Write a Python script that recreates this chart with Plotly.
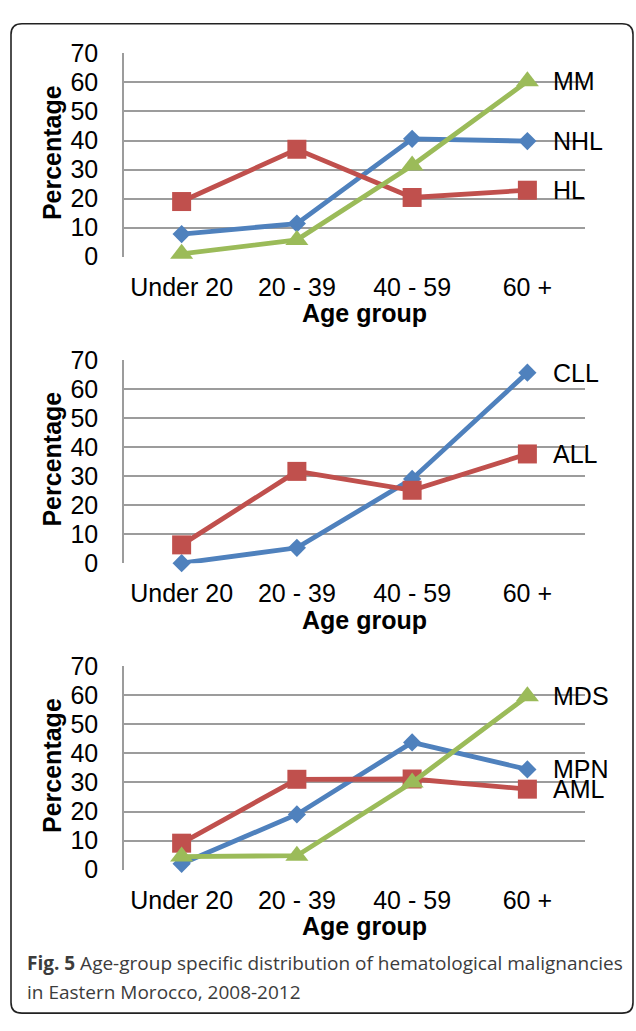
import plotly.graph_objects as go

W, H = 636, 1031

categories = ["Under 20", "20 - 39", "40 - 59", "60 +"]
y_ticks = [0, 10, 20, 30, 40, 50, 60, 70]

# Panel 1: lymphomas / myeloma
nhl = [7.8, 11.4, 40.6, 39.8]
hl = [19.0, 37.0, 20.4, 22.9]
mm = [1.0, 5.8, 31.4, 60.4]

# Panel 2: lymphoid leukemias
cll = [0.0, 5.3, 29.0, 65.6]
all_ = [6.3, 31.6, 25.1, 37.6]

# Panel 3: myeloid
mpn = [2.0, 19.0, 43.8, 34.5]
aml = [9.1, 31.1, 31.2, 27.7]
mds = [4.5, 4.8, 30.0, 59.7]

BLUE = "#4F81BD"
RED = "#C0504D"
GREEN = "#9BBB59"
GRID = "#9C9C9C"
FONT = "Liberation Sans, Arial, sans-serif"
FS = 25

panels = [
    {"series": [("NHL", nhl, BLUE, "diamond"), ("HL", hl, RED, "square"), ("MM", mm, GREEN, "triangle-up")],
     "top": 40.5, "bottom": 249.5},
    {"series": [("CLL", cll, BLUE, "diamond"), ("ALL", all_, RED, "square")],
     "top": 355.5, "bottom": 564.5},
    {"series": [("MPN", mpn, BLUE, "diamond"), ("AML", aml, RED, "square"), ("MDS", mds, GREEN, "triangle-up")],
     "top": 670.5, "bottom": 879.5},
]

def py(p):
    return 1 - p / H

def px(p):
    return p / W

X0, X1 = 124, 585
marker_size = {"diamond": 14, "square": 19, "triangle-up": 20}

fig = go.Figure()
annotations = []
for i, pan in enumerate(panels):
    k = "" if i == 0 else str(i + 1)
    xa, ya = "x" + k, "y" + k
    for name, vals, col, sym in pan["series"]:
        fig.add_trace(go.Scatter(
            x=categories, y=vals, xaxis=xa, yaxis=ya, mode="lines+markers", name=name,
            line=dict(color=col, width=4.8), cliponaxis=False,
            marker=dict(symbol=sym, size=marker_size[sym], color=col, line=dict(width=0)),
            showlegend=False, hoverinfo="skip"))
        annotations.append(dict(
            x=categories[-1], y=vals[-1], xref=xa, yref=ya, text=name, showarrow=False,
            xanchor="left", yanchor="middle", xshift=24,
            font=dict(family=FONT, size=FS, color="#000")))
    fig.layout["xaxis" + k] = dict(
        domain=[px(X0), px(X1)], anchor=ya, type="category", range=[-0.5, 3.5],
        showgrid=False, showline=False, zeroline=False, ticks="",
        tickfont=dict(family=FONT, size=FS, color="#000"), ticklabelstandoff=13)
    fig.layout["yaxis" + k] = dict(
        domain=[py(pan["bottom"]), py(pan["top"])], anchor=xa, range=[0, 70],
        tickvals=y_ticks, showgrid=True, gridcolor=GRID, gridwidth=1.6,
        showline=True, linecolor=GRID, linewidth=1.6, zeroline=False, ticks="",
        tickfont=dict(family=FONT, size=FS, color="#000"), ticklabelstandoff=19)
    annotations.append(dict(
        x=px(52), y=py((pan["top"] + pan["bottom"]) / 2 - 2), xref="paper", yref="paper",
        text="<b>Percentage</b>", textangle=-90, showarrow=False,
        xanchor="center", yanchor="middle", font=dict(family=FONT, size=FS, color="#000")))
    annotations.append(dict(
        x=px(364), y=py(pan["bottom"] + 58), xref="paper", yref="paper",
        text="<b>Age group</b>", showarrow=False,
        xanchor="center", yanchor="middle", font=dict(family=FONT, size=FS, color="#000")))

CAP = "Open Sans, Noto Sans, sans-serif"
annotations.append(dict(
    x=px(25), y=py(976), xref="paper", yref="paper", showarrow=False,
    xanchor="left", yanchor="middle",
    text="<b>Fig. 5</b> Age-group specific distribution of hematological malignancies",
    font=dict(family=CAP, size=19, color="#3c3c3c")))
annotations.append(dict(
    x=px(25), y=py(1005), xref="paper", yref="paper", showarrow=False,
    xanchor="left", yanchor="middle",
    text="in Eastern Morocco, 2008-2012",
    font=dict(family=CAP, size=19, color="#3c3c3c")))

# rounded frame around the figure
l, r, t, b, rad = 11, 633, 10, 1027, 11
path = (f"M {px(l + rad)},{py(t)} L {px(r - rad)},{py(t)} Q {px(r)},{py(t)} {px(r)},{py(t + rad)} "
        f"L {px(r)},{py(b - rad)} Q {px(r)},{py(b)} {px(r - rad)},{py(b)} "
        f"L {px(l + rad)},{py(b)} Q {px(l)},{py(b)} {px(l)},{py(b - rad)} "
        f"L {px(l)},{py(t + rad)} Q {px(l)},{py(t)} {px(l + rad)},{py(t)} Z")

fig.update_layout(
    width=W, height=H, margin=dict(l=0, r=0, t=0, b=0),
    paper_bgcolor="white", plot_bgcolor="white",
    annotations=annotations,
    shapes=[dict(type="path", path=path, xref="paper", yref="paper",
                 line=dict(color="#222", width=1.6), layer="below")],
)

fig.write_html(
    "out.html",
    config={"displayModeBar": False},
    post_script="document.body.style.margin='0';document.body.style.padding='0';",
)
